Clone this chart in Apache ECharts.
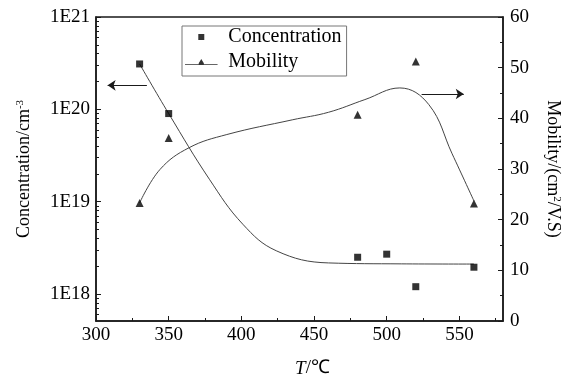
<!DOCTYPE html>
<html>
<head>
<meta charset="utf-8">
<script src="https://cdn.jsdelivr.net/npm/echarts@6/dist/echarts.min.js"></script>
<style>
  html, body { margin: 0; padding: 0; background: #fff; }
  #chart { width: 570px; height: 383px; }
</style>
</head>
<body>
<div id="chart"></div>
<script>
// measured points
var concTemps = [330, 350, 480, 500, 520, 560];
var concValues = [3.1e20, 9.0e19, 2.5e18, 2.7e18, 1.2e18, 1.95e18];

var mobTemps = [330, 350, 480, 520, 560];
var mobValues = [23.3, 36.1, 40.7, 51.2, 23.2];

// fitted guide curves
var concFitTemps = [330, 350, 378, 401, 424, 460, 510, 560];
var concFitValues = [3.1e20, 9.0e19, 1.75e19, 5.7e18, 2.94e18, 2.17e18, 2.12e18, 2.11e18];

var mobFitTemps = [330, 344, 364, 390, 435, 460, 485, 509, 529, 545, 560];
var mobFitValues = [23.3, 29.9, 34.2, 36.8, 39.7, 41.2, 43.7, 46.0, 42.7, 33.0, 23.7];

// axis arrows (which axis each curve belongs to), in data units
var concArrowTemps = [335, 308];
var concArrowLevel = 1.82e20;
var mobArrowTemps = [524, 553];
var mobArrowLevel = 44.8;

// tick values
var concMin = 5.1e17;
var concMax = 1e21;
var xMinorTicks = [325, 375, 425, 475, 525, 575];
var concMinorTicks = [];
[17, 18, 19, 20].forEach(function (e) {
  for (let k = 2; k <= 9; k++) {
    let v = k * Math.pow(10, e);
    if (v > concMin && v < concMax) concMinorTicks.push(v);
  }
});

var FONT = "'Liberation Serif', 'Times New Roman', serif";
var INK = '#1a1a1a';
var CURVE = '#444';

function zip(xs, ys) {
  return xs.map(function (x, i) { return [x, ys[i]]; });
}

var theChart = echarts.init(document.getElementById('chart'), null, { renderer: 'canvas' });

var option = {
  animation: false,
  backgroundColor: '#fff',
  textStyle: { fontFamily: FONT, color: '#000' },
  grid: {
    left: 96, right: 65, top: 17, bottom: 61,
    show: true, borderColor: INK, borderWidth: 1.5, backgroundColor: 'transparent'
  },
  legend: {
    orient: 'vertical',
    left: 182, top: 26,
    itemWidth: 38, itemHeight: 6, itemGap: 5,
    padding: [1, 5, 4, 3],
    borderColor: '#777', borderWidth: 1,
    backgroundColor: '#fff',
    selectedMode: false,
    textStyle: { fontFamily: FONT, fontSize: 20, color: '#000', lineHeight: 18, padding: [0, 0, 0, 3] },
    data: [
      { name: 'Concentration', icon: 'path://M0,0L6,0L6,6L0,6Z' },
      { name: 'Mobility', icon: 'path://M0,3L16,3L16,2L19,-3L22,2L22,3L38,3L38,4L0,4Z' }
    ]
  },
  xAxis: [
    {
      type: 'value', min: 300, max: 580, interval: 50,
      name: '{i|T}/℃', nameLocation: 'middle', nameGap: 38, nameMoveOverlap: false,
      nameTextStyle: {
        fontFamily: FONT, fontSize: 19, color: '#000', padding: [0, 0, 0, 26],
        rich: { i: { fontFamily: FONT, fontSize: 19, fontStyle: 'italic', color: '#000' } }
      },
      axisLine: { lineStyle: { color: INK, width: 1.5 } },
      axisTick: { inside: true, length: 5, lineStyle: { color: INK, width: 1 } },
      axisLabel: { fontFamily: FONT, fontSize: 19, color: '#000', margin: 5, showMaxLabel: false },
      splitLine: { show: false }
    },
    {
      type: 'value', min: 300, max: 580, position: 'bottom',
      axisLine: { show: false },
      axisTick: { inside: true, length: 3, customValues: xMinorTicks, lineStyle: { color: INK, width: 1 } },
      axisLabel: { show: false },
      splitLine: { show: false }
    }
  ],
  yAxis: [
    {
      type: 'log', logBase: 10, min: concMin, max: concMax, position: 'left',
      name: 'Concentration/cm{sup|-3}', nameLocation: 'middle', nameRotate: 90, nameGap: 62,
      nameMoveOverlap: false,
      nameTextStyle: {
        fontFamily: FONT, fontSize: 18, color: '#000',
        rich: { sup: { fontFamily: FONT, fontSize: 11, color: '#000', padding: [0, 0, 8, 0] } }
      },
      axisLine: { show: true, lineStyle: { color: INK, width: 1.5 } },
      axisTick: { show: true, inside: true, length: 5, lineStyle: { color: INK, width: 1 } },
      axisLabel: {
        fontFamily: FONT, fontSize: 19, color: '#000', margin: 6, showMinLabel: false,
        formatter: function (v) { return '1E' + Math.round(Math.log10(v)); }
      },
      splitLine: { show: false }
    },
    {
      type: 'value', min: 0, max: 60, interval: 10, position: 'right',
      name: 'Mobility/(cm{sup|2}/V.S)', nameLocation: 'middle', nameRotate: -90, nameGap: 40,
      nameMoveOverlap: false,
      nameTextStyle: {
        fontFamily: FONT, fontSize: 18, color: '#000',
        rich: { sup: { fontFamily: FONT, fontSize: 11, color: '#000', padding: [0, 0, 8, 0] } }
      },
      axisLine: { show: true, lineStyle: { color: INK, width: 1.5 } },
      axisTick: { show: true, inside: true, length: 5, lineStyle: { color: INK, width: 1 } },
      minorTick: { show: true, splitNumber: 2, length: 3, lineStyle: { color: INK, width: 1 } },
      axisLabel: { fontFamily: FONT, fontSize: 19, color: '#000', margin: 7 },
      splitLine: { show: false }
    },
    {
      // minor decade ticks of the left axis, placed on a log10 scale of the same span
      type: 'value', min: Math.log10(concMin), max: Math.log10(concMax), position: 'left',
      axisLine: { show: false },
      axisTick: {
        show: true, inside: true, length: 3, lineStyle: { color: INK, width: 1 },
        customValues: concMinorTicks.map(function (v) { return Math.log10(v); })
      },
      axisLabel: { show: false },
      splitLine: { show: false }
    }
  ],
  series: [
    {
      name: 'ConcFit', type: 'line', xAxisIndex: 0, yAxisIndex: 0,
      data: zip(concFitTemps, concFitValues),
      smooth: 0.4, symbol: 'none', silent: true,
      lineStyle: { color: CURVE, width: 1 },
      markLine: {
        silent: true, symbol: ['none', 'arrow'], symbolSize: 8,
        label: { show: false },
        lineStyle: { color: INK, width: 1, type: 'solid' },
        data: [[
          { coord: [concArrowTemps[0], concArrowLevel] },
          { coord: [concArrowTemps[1], concArrowLevel] }
        ]]
      }
    },
    {
      name: 'MobFit', type: 'line', xAxisIndex: 0, yAxisIndex: 1,
      data: zip(mobFitTemps, mobFitValues),
      smooth: 0.4, symbol: 'none', silent: true,
      lineStyle: { color: CURVE, width: 1 },
      markLine: {
        silent: true, symbol: ['none', 'arrow'], symbolSize: 8,
        label: { show: false },
        lineStyle: { color: INK, width: 1, type: 'solid' },
        data: [[
          { coord: [mobArrowTemps[0], mobArrowLevel] },
          { coord: [mobArrowTemps[1], mobArrowLevel] }
        ]]
      }
    },
    {
      name: 'Concentration', type: 'scatter', xAxisIndex: 0, yAxisIndex: 0,
      data: zip(concTemps, concValues),
      symbol: 'rect', symbolSize: 7, z: 5,
      itemStyle: { color: '#000' }
    },
    {
      name: 'Mobility', type: 'scatter', xAxisIndex: 0, yAxisIndex: 1,
      data: zip(mobTemps, mobValues),
      symbol: 'triangle', symbolSize: 8, z: 5,
      itemStyle: { color: '#000' }
    }
  ]
};

theChart.setOption(option);
</script>
</body>
</html>
